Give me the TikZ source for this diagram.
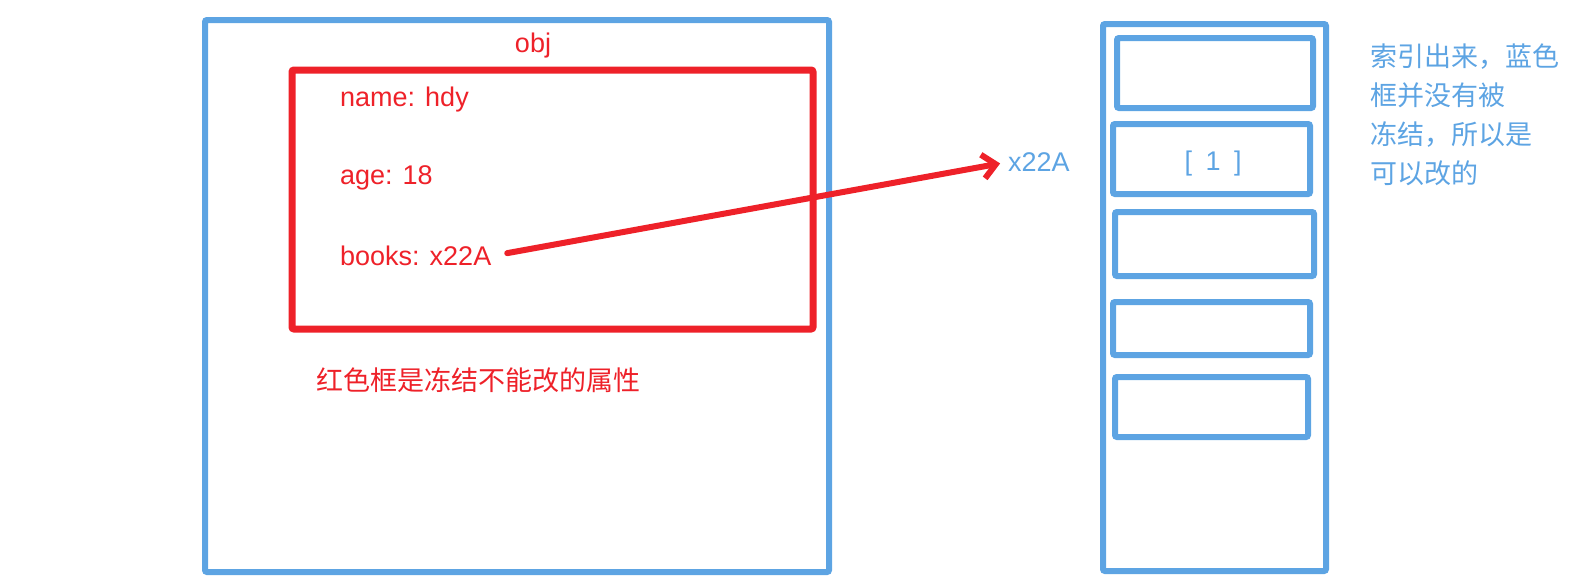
\documentclass[tikz,border=0pt]{standalone}
\usepackage{fontspec}
\setmainfont{Liberation Sans}
\newfontfamily\cjk{Noto Sans CJK SC}
\usetikzlibrary{positioning,arrows.meta}
\definecolor{frzred}{RGB}{238,33,41}
\definecolor{refblue}{RGB}{93,164,227}
\tikzset{
  bbox/.style={draw=refblue,line width=6pt,rounded corners=2pt,inner sep=0pt},
  rbox/.style={draw=frzred,line width=7pt,rounded corners=2pt,inner sep=0pt},
  rtxt/.style={text=frzred,font=\fontsize{27}{39}\selectfont,inner sep=0pt},
  btxt/.style={text=refblue,font=\fontsize{27}{39}\selectfont,inner sep=0pt},
  fl/.style={-{Straight Barb[length=13pt,width=24pt,line width=6pt]},line width=6pt,line cap=round,frzred},
}
\begin{document}
\begin{tikzpicture}[x=1pt,y=-1pt]
\useasboundingbox (0,0) rectangle (1572,582);
% obj
\node[bbox,minimum width=624pt,minimum height=552pt] (obj) at (517,296){};
\node[rtxt] (objl) at (533,46){obj};
\node[rbox,minimum width=521pt,minimum height=259pt] (frz) at (552.5,199.5){};
\node[rtxt,anchor=west] (nm) at (340,100){name: hdy};
\node[rtxt,anchor=west] (ag) at (340,178){age: 18};
\node[rtxt,anchor=west] (bk) at (340,256){books: x22A};
\node[rtxt,anchor=west] (frzn) at (316,380){\cjk 红色框是冻结不能改的属性};
% array
\node[btxt,anchor=west] (addr) at (1008,162){x22A};
\node[bbox,minimum width=223pt,minimum height=547pt] (arr) at (1214.5,297.5){};
\node[bbox,minimum width=196pt,minimum height=70pt] (s1) at (1215,73){};
\node[bbox,minimum width=197pt,minimum height=70pt] (s2) at (1211.5,159){};
\node[bbox,minimum width=199pt,minimum height=64pt] (s3) at (1214.5,244){};
\node[bbox,minimum width=197pt,minimum height=53pt] (s4) at (1211.5,328.5){};
\node[bbox,minimum width=193pt,minimum height=60pt] (s5) at (1211.5,407){};
\node[btxt] (one) at (1213,164){[\enspace1\enspace]};
\node[btxt,anchor=north west,align=left] (arrn) at (1370,44){\cjk 索引出来，蓝色\\\cjk 框并没有被\\\cjk 冻结，所以是\\\cjk 可以改的};
\draw[fl,shorten <=16pt,shorten >=8pt](bk.east)--(addr.west);
\end{tikzpicture}
\end{document}
